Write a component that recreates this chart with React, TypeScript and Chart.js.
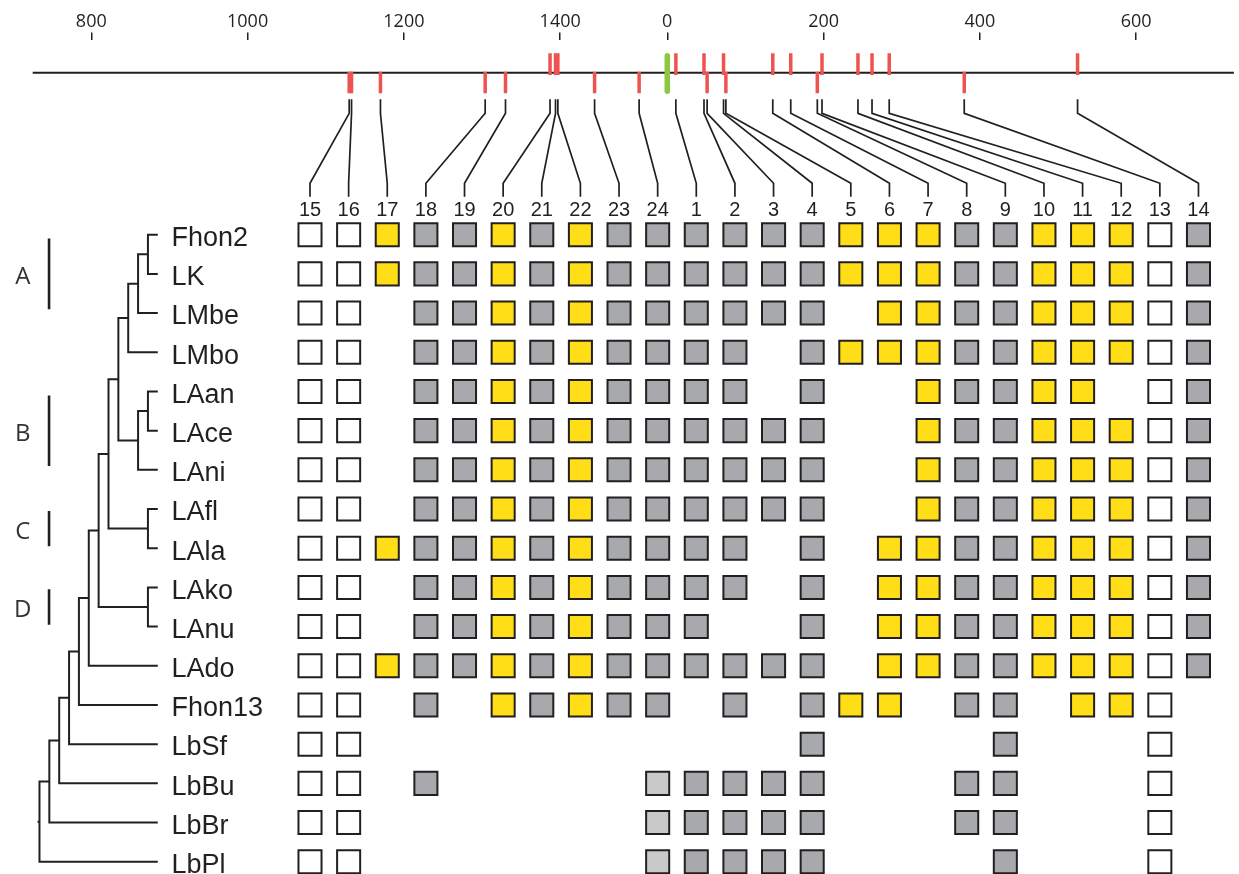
import { useEffect, useRef } from 'react';
import { Chart, registerables } from 'chart.js';

Chart.register(...registerables);

// ---------------- data ----------------
const TAXA = ['Fhon2', 'LK', 'LMbe', 'LMbo', 'LAan', 'LAce', 'LAni', 'LAfl', 'LAla', 'LAko', 'LAnu', 'LAdo', 'Fhon13', 'LbSf', 'LbBu', 'LbBr', 'LbPl'];

// order of the site columns in the matrix
const SITE_ORDER = [15, 16, 17, 18, 19, 20, 21, 22, 23, 24, 1, 2, 3, 4, 5, 6, 7, 8, 9, 10, 11, 12, 13, 14];

// genome position (bp) of sites 1..24 and the side of the track they are drawn on
const SITE_POSITION = [11, 47, 51, 72, 75, 135, 158, 192, 198, 244, 262, 284, 380, 525, 1130, 1133, 1170, 1304, 1330, 1387, 1394, 1397, 1444, 1501];
const SITE_SIDE = ['up', 'up', 'down', 'up', 'down', 'up', 'up', 'down', 'up', 'up', 'up', 'up', 'down', 'up', 'down', 'down', 'down', 'down', 'down', 'up', 'up', 'up', 'down', 'down'];

const GENOME_LENGTH = 1537;
const GENOME_START = 725;
const ORIGIN = 0;
const AXIS_TICKS = [800, 1000, 1200, 1400, 0, 200, 400, 600];

// W = absent (white), G = present (grey), Y = present (yellow), L = light grey, . = none
const MATRIX = [
  'WWYGGYGYGG|GGGGYYYGGYYYWG', // Fhon2
  'WWYGGYGYGG|GGGGYYYGGYYYWG', // LK
  'WW.GGYGYGG|GGGG.YYGGYYYWG', // LMbe
  'WW.GGYGYGG|GG.GYYYGGYYYWG', // LMbo
  'WW.GGYGYGG|GG.G..YGGYY.WG', // LAan
  'WW.GGYGYGG|GGGG..YGGYYYWG', // LAce
  'WW.GGYGYGG|GGGG..YGGYYYWG', // LAni
  'WW.GGYGYGG|GGGG..YGGYYYWG', // LAfl
  'WWYGGYGYGG|GG.G.YYGGYYYWG', // LAla
  'WW.GGYGYGG|GG.G.YYGGYYYWG', // LAko
  'WW.GGYGYGG|G..G.YYGGYYYWG', // LAnu
  'WWYGGYGYGG|GGGG.YYGGYYYWG', // LAdo
  'WW.G.YGYGG|.G.GYY.GG.YYW.', // Fhon13
  'WW........|...G....G...W.', // LbSf
  'WW.G.....L|GGGG...GG...W.', // LbBu
  'WW.......L|GGGG...GG...W.', // LbBr
  'WW.......L|GGGG....G...W.', // LbPl
];

// cladogram: [node depth, child, child]
const CLADE_A = [3, [2, [1, 'Fhon2', 'LK'], 'LMbe'], 'LMbo'];
const CLADE_B = [2, [1, 'LAan', 'LAce'], 'LAni'];
const CLADE_C = [1, 'LAfl', 'LAla'];
const CLADE_D = [1, 'LAko', 'LAnu'];
const NODE_AB = [4, CLADE_A, CLADE_B];
const NODE_ABC = [5, NODE_AB, CLADE_C];
const NODE_ABCD = [6, NODE_ABC, CLADE_D];
const NODE_7 = [7, NODE_ABCD, 'LAdo'];
const NODE_8 = [8, NODE_7, 'Fhon13'];
const NODE_9 = [9, NODE_8, 'LbSf'];
const NODE_10 = [10, NODE_9, 'LbBu'];
const NODE_11 = [11, NODE_10, 'LbBr'];
const TREE_ROOT = [12, NODE_11, 'LbPl'];

const GROUP_LABELS = ['A', 'B', 'C', 'D'];
const GROUP_FIRST = ['Fhon2', 'LAan', 'LAfl', 'LAko'];
const GROUP_LAST = ['LMbe', 'LAni', 'LAla', 'LAnu'];

// ---------------- styles & layout ----------------
const INK = '#231f20';
const SITE_RED = '#ef5350';
const ORIGIN_GREEN = '#8dc63f';
const CELL_FILL: Record<string, string> = { W: '#ffffff', G: '#a7a9ac', Y: '#ffde17', L: '#c8c9c9' };
const CELL_NAME: Record<string, string> = { W: 'absent', G: 'present', Y: 'present (yellow)', L: 'present (light)' };

const GENOME_AXIS = { min: 683.17, max: 2268.58 };
const COLUMN_AXIS = { min: -8.025, max: 24.049 };
const TREE_AXIS = { min: -109.655, max: 16.004 };
const ROW_AXIS = { min: -4.958, max: 16.313 };

const TRACK_Y = -4.134;
const SITE_UP_Y = -4.351;
const SITE_DOWN_Y = -3.884;
const ORIGIN_Y = -4.113;
const LINK_TOP = -3.455;
const LINK_ELBOW1 = -3.098;
const LINK_ELBOW2 = -1.312;
const LINK_BOTTOM = -0.97;
const COL_LABEL_BASE = -0.477;
const TAXON_TEXT_DY = 0.288;
const GROUP_TEXT_DY = 0.26;
const LABEL_LEVEL = -1.39;
const GROUP_BAR_LEVEL = 11.03;
const GROUP_TEXT_LEVEL = 13.7;
const ROOT_STUB = 12.2;

const unwrap = (p: number) => (p < GENOME_START ? p + GENOME_LENGTH : p);

function layoutTree(node: any, pts: any[]): { level: number; row: number } {
  if (typeof node === 'string') return { level: 0, row: TAXA.indexOf(node) };
  const [level, a, b] = node;
  const pa = layoutTree(a, pts);
  const pb = layoutTree(b, pts);
  pts.push(
    { x: pa.level, y: pa.row },
    { x: level, y: pa.row },
    { x: level, y: pb.row },
    { x: pb.level, y: pb.row },
    { x: null, y: null }
  );
  return { level, row: (pa.row + pb.row) / 2 };
}

const figurePlugin = {
  id: 'figureText',
  beforeDatasetDraw(chart: any, args: any) {
    const ds = chart.data.datasets[args.index];
    chart.ctx.lineCap = ds.roundCap ? 'round' : 'butt';
  },
  afterDatasetDraw(chart: any) {
    chart.ctx.lineCap = 'butt';
  },
  afterDatasetsDraw(chart: any) {
    const { ctx, scales } = chart;
    const xG = scales.xG, xC = scales.xC, xT = scales.xT, y = scales.y;
    ctx.save();
    // connectors from sites to columns
    ctx.strokeStyle = INK;
    ctx.lineWidth = 1.7;
    ctx.lineJoin = 'miter';
    ctx.lineCap = 'butt';
    SITE_ORDER.forEach((site, c) => {
      const gx = xG.getPixelForValue(unwrap(SITE_POSITION[site - 1]));
      const cx = xC.getPixelForValue(c);
      ctx.beginPath();
      ctx.moveTo(gx, y.getPixelForValue(LINK_TOP));
      ctx.lineTo(gx, y.getPixelForValue(LINK_ELBOW1));
      ctx.lineTo(cx, y.getPixelForValue(LINK_ELBOW2));
      ctx.lineTo(cx, y.getPixelForValue(LINK_BOTTOM));
      ctx.stroke();
    });
    // column labels
    ctx.fillStyle = INK;
    ctx.font = '20px "Liberation Sans", Arial, sans-serif';
    ctx.textAlign = 'center';
    ctx.textBaseline = 'alphabetic';
    SITE_ORDER.forEach((site, c) => {
      ctx.fillText(String(site), xC.getPixelForValue(c), y.getPixelForValue(COL_LABEL_BASE));
    });
    // taxon labels
    ctx.font = '27px "Liberation Sans", Arial, sans-serif';
    ctx.textAlign = 'left';
    TAXA.forEach((t, r) => {
      ctx.fillText(t, xT.getPixelForValue(LABEL_LEVEL), y.getPixelForValue(r + TAXON_TEXT_DY));
    });
    // group letters
    ctx.font = '24px "Open Sans", sans-serif';
    ctx.fillStyle = '#333333';
    ctx.textAlign = 'center';
    GROUP_LABELS.forEach((g, i) => {
      const mid = (TAXA.indexOf(GROUP_FIRST[i]) + TAXA.indexOf(GROUP_LAST[i])) / 2;
      ctx.fillText(g, xT.getPixelForValue(GROUP_TEXT_LEVEL), y.getPixelForValue(mid + GROUP_TEXT_DY));
    });
    ctx.restore();
  },
};

export default function App() {
  const ref = useRef<HTMLCanvasElement | null>(null);

  useEffect(() => {
    if (!ref.current) return;

    const treePts: any[] = [];
    const root = layoutTree(TREE_ROOT, treePts);
    treePts.push({ x: root.level, y: root.row }, { x: ROOT_STUB, y: root.row });

    const groupPts: any[] = [];
    GROUP_LABELS.forEach((_, i) => {
      const a = TAXA.indexOf(GROUP_FIRST[i]);
      const b = TAXA.indexOf(GROUP_LAST[i]);
      const mid = (a + b) / 2;
      const half = (b - a) * 0.45;
      groupPts.push({ x: GROUP_BAR_LEVEL, y: mid - half }, { x: GROUP_BAR_LEVEL, y: mid + half }, { x: null, y: null });
    });

    const cellSets = ['W', 'G', 'Y', 'L'].map((code) => {
      const data: any[] = [];
      MATRIX.forEach((row, r) => {
        row.replace('|', '').split('').forEach((ch, c) => {
          if (ch === code) data.push({ x: c, y: r });
        });
      });
      return {
        label: CELL_NAME[code],
        data,
        xAxisID: 'xC',
        yAxisID: 'y',
        pointStyle: 'rect',
        pointRadius: 16.3,
        pointBackgroundColor: CELL_FILL[code],
        pointBorderColor: INK,
        pointBorderWidth: 2,
        order: 1,
      };
    });

    const chart = new Chart(ref.current, {
      type: 'scatter',
      data: {
        datasets: [
          {
            label: 'origin',
            data: [{ x: unwrap(ORIGIN), y: ORIGIN_Y }],
            xAxisID: 'xG',
            yAxisID: 'y',
            pointStyle: 'line',
            pointRotation: 90,
            pointRadius: 17.8,
            pointBorderColor: ORIGIN_GREEN,
            pointBorderWidth: 5.5,
            roundCap: true,
            order: 0,
          } as any,
          {
            label: 'sites',
            data: SITE_POSITION.map((p, i) => ({ x: unwrap(p), y: SITE_SIDE[i] === 'up' ? SITE_UP_Y : SITE_DOWN_Y })),
            xAxisID: 'xG',
            yAxisID: 'y',
            pointStyle: 'line',
            pointRotation: 90,
            pointRadius: 10.85,
            pointBorderColor: SITE_RED,
            pointBorderWidth: 3.5,
            order: 1,
          },
          {
            label: 'genome',
            data: [{ x: GENOME_START, y: TRACK_Y }, { x: GENOME_START + GENOME_LENGTH, y: TRACK_Y }],
            xAxisID: 'xG',
            yAxisID: 'y',
            showLine: true,
            pointRadius: 0,
            borderColor: INK,
            borderWidth: 2,
            order: 5,
          },
          {
            label: 'tree',
            data: treePts,
            xAxisID: 'xT',
            yAxisID: 'y',
            showLine: true,
            spanGaps: false,
            pointRadius: 0,
            borderColor: INK,
            borderWidth: 2,
            borderJoinStyle: 'miter',
            order: 2,
          },
          {
            label: 'groups',
            data: groupPts,
            xAxisID: 'xT',
            yAxisID: 'y',
            showLine: true,
            spanGaps: false,
            pointRadius: 0,
            borderColor: INK,
            borderWidth: 2.6,
            order: 2,
          },
          ...cellSets,
        ] as any,
      },
      options: {
        animation: false,
        responsive: false,
        devicePixelRatio: 1,
        events: [],
        layout: { autoPadding: false, padding: { top: 10.8, left: 0, right: 0, bottom: 0 } },
        plugins: { legend: { display: false }, tooltip: { enabled: false } },
        elements: { line: { tension: 0 } },
        scales: {
          xG: {
            type: 'linear',
            axis: 'x',
            position: 'top',
            min: GENOME_AXIS.min,
            max: GENOME_AXIS.max,
            afterBuildTicks: (axis: any) => {
              axis.ticks = AXIS_TICKS.map((p) => ({ value: unwrap(p) }));
            },
            ticks: {
              autoSkip: false,
              maxRotation: 0,
              padding: 0,
              color: INK,
              font: { family: '"Open Sans", sans-serif', size: 18 },
              callback: (v: any) => String(v >= GENOME_LENGTH ? v - GENOME_LENGTH : v),
            },
            grid: { display: true, drawOnChartArea: false, drawTicks: true, tickLength: 8, color: INK, lineWidth: 1.5 },
            border: { display: false },
          },
          xC: { type: 'linear', axis: 'x', display: false, min: COLUMN_AXIS.min, max: COLUMN_AXIS.max },
          xT: { type: 'linear', axis: 'x', display: false, reverse: true, min: TREE_AXIS.min, max: TREE_AXIS.max },
          y: { type: 'linear', display: false, reverse: true, min: ROW_AXIS.min, max: ROW_AXIS.max },
        },
      } as any,
      plugins: [figurePlugin],
    });

    return () => chart.destroy();
  }, []);

  return (
    <div style={{ position: 'fixed', left: 0, top: 0, width: 1239, height: 874, background: '#ffffff' }}>
      <canvas ref={ref} width={1239} height={874} style={{ display: 'block', width: 1239, height: 874 }} />
    </div>
  );
}
